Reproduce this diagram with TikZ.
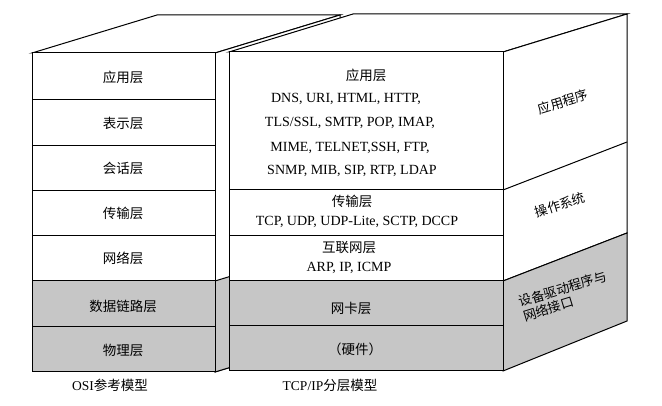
\documentclass[tikz,border=0pt]{standalone}
\usepackage{fontspec}
\setmainfont{Liberation Serif}
\newfontfamily\cjk{Noto Sans CJK SC}
\begin{document}
\begin{tikzpicture}[x=1pt,y=-1pt,
  face/.style={draw=black,line width=1pt,fill=white},
  shade/.style={draw=black,line width=1pt,fill=gray!45},
  lbl/.style={font=\cjk\fontsize{13.5}{15}\selectfont,inner sep=1pt},
  en/.style={font=\fontsize{14}{16}\selectfont,inner sep=1pt},
  side/.style={font=\cjk\fontsize{13}{15}\selectfont,rotate=17,align=left,inner sep=0pt}]
\useasboundingbox (0,0) rectangle (662,406);
% left box
\draw[face] (32,53) -- (157,15) -- (340,15) -- (215,53) -- cycle;
\draw[face] (215,53) -- (340,15) -- (340,334) -- (215,372) -- cycle;
\draw[shade] (215,281) -- (340,243) -- (340,334) -- (215,372) -- cycle;
\draw[face] (32,53) rectangle (215,281);
\draw[shade] (32,281) rectangle (215,372);
\foreach \y in {100,146,191,236,327} \draw[line width=1pt] (32,\y) -- (215,\y);
% right box
\draw[face] (229,52) -- (353,14) -- (627,14) -- (503,52) -- cycle;
\draw[face] (503,52) -- (627,14) -- (627,233) -- (503,281) -- cycle;
\draw[shade] (503,281) -- (627,233) -- (627,321) -- (503,371) -- cycle;
\draw[line width=1pt] (503,190) -- (627,142);
\draw[face] (229,52) rectangle (503,281);
\draw[shade] (229,281) rectangle (503,371);
\foreach \y in {190,236,326} \draw[line width=1pt] (229,\y) -- (503,\y);
% left labels
\node[lbl] (o1) at (123,77) {应用层};
\node[lbl] (o2) at (123,123) {表示层};
\node[lbl] (o3) at (123,168) {会话层};
\node[lbl] (o4) at (123,213) {传输层};
\node[lbl] (o5) at (123,258) {网络层};
\node[lbl] (o6) at (123,306) {数据链路层};
\node[lbl] (o7) at (123,350) {物理层};
% right labels
\node[lbl] (a0) at (366,75) {应用层};
\node[en] (a1) at (346,99) {DNS, URI, HTML, HTTP,};
\node[en] (a2) at (350,123) {TLS/SSL, SMTP, POP, IMAP,};
\node[en] (a3) at (350,148) {MIME, TELNET,SSH, FTP,};
\node[en] (a4) at (352,171) {SNMP, MIB, SIP, RTP, LDAP};
\node[lbl] (t0) at (352,201) {传输层};
\node[en] (t1) at (357,222) {TCP, UDP, UDP-Lite, SCTP, DCCP};
\node[lbl] (i0) at (349,248) {互联网层};
\node[en] (i1) at (349,268) {ARP, IP, ICMP};
\node[lbl] (n0) at (351,308) {网卡层};
\node[lbl] (h0) at (355,349) {（硬件）};
% side labels
\node[side] (s1) at (563,102) {应用程序};
\node[side] (s2) at (560,205) {操作系统};
\node[side] (s3) at (565,296) {设备驱动程序与\\网络接口};
% captions
\node[lbl] (c1) at (110,385) {\fontspec{Liberation Serif}OSI\cjk 参考模型};
\node[lbl] (c2) at (330,385) {\fontspec{Liberation Serif}TCP/IP\cjk 分层模型};
\end{tikzpicture}
\end{document}
